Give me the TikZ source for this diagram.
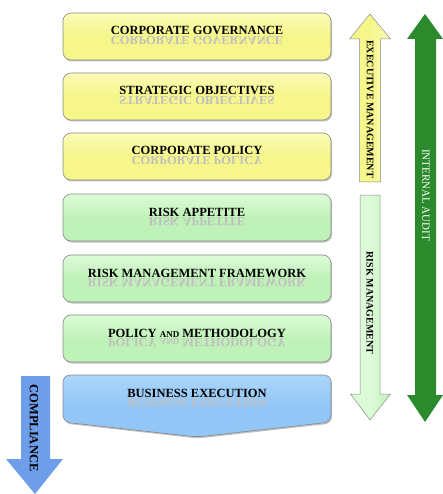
\documentclass[tikz,border=0pt]{standalone}
\usepackage{fontspec}
\setmainfont{Liberation Serif}
\usetikzlibrary{shadows}
\definecolor{yelA}{HTML}{F6F68A}
\definecolor{yelB}{HTML}{FBFBB8}
\definecolor{grnA}{HTML}{BFF2B8}
\definecolor{grnB}{HTML}{DDFAD8}
\definecolor{bluA}{HTML}{92C6F7}
\definecolor{bluB}{HTML}{ABD6FB}
\definecolor{dgreen}{HTML}{2B8A2B}
\definecolor{compl}{HTML}{6E9EEA}
\definecolor{edge}{HTML}{8A8A8A}
\tikzset{
  boxbase/.style={draw=edge, line width=0.6pt, rounded corners=8pt,
    drop shadow={shadow xshift=1pt, shadow yshift=-1.5pt, opacity=0.35, fill=black!70}},
  ybox/.style={boxbase, top color=yelB, bottom color=yelA, middle color=yelA},
  gbox/.style={boxbase, top color=grnB, bottom color=grnA, middle color=grnA},
  bbox/.style={boxbase, top color=bluB, bottom color=bluA, middle color=bluA},
  title/.style={anchor=base, font=\bfseries\fontsize{12.5}{13}\selectfont, text=black, inner sep=0pt},
  refl/.style={anchor=base, font=\bfseries\fontsize{12.5}{13}\selectfont, text=black!25, inner sep=0pt, yscale=-1},
  arrtxt/.style={rotate=-90, font=\bfseries\fontsize{10}{11}\selectfont, inner sep=0pt},
}
\newcommand\mybox[5]{% name, top, style, text
  \node[#3, minimum width=268pt, minimum height=47pt, inner sep=0pt] (#1) at (197,#2+23.5) {};
  \node[title] (#1t) at (197,#2+22) {#4};
  \begin{scope}
    \clip (70,#2+22.8) rectangle (325,#2+31);
    \node[refl] (#1r) at (197,#2+23.2) {#5};
  \end{scope}
}
\begin{document}
\begin{tikzpicture}[x=1pt,y=-1pt]
\useasboundingbox (0,0) rectangle (442,494);
% boxes
\mybox{b1}{13}{ybox}{CORPORATE GOVERNANCE}{CORPORATE GOVERNANCE}
\mybox{b2}{73}{ybox}{STRATEGIC OBJECTIVES}{STRATEGIC OBJECTIVES}
\mybox{b3}{133}{ybox}{CORPORATE POLICY}{CORPORATE POLICY}
\mybox{b4}{194}{gbox}{RISK APPETITE}{RISK APPETITE}
\mybox{b5}{255}{gbox}{RISK MANAGEMENT FRAMEWORK}{RISK MANAGEMENT FRAMEWORK}
\mybox{b6}{315}{gbox}{POLICY {\fontsize{9}{9}\selectfont AND} METHODOLOGY}{POLICY {\fontsize{9}{9}\selectfont AND} METHODOLOGY}
% business execution
\path[bbox, rounded corners=7pt] (63,422) -- (63,375) -- (331,375) -- (331,422) -- (197,437) -- cycle;
\node[title] (b7t) at (197,397) {BUSINESS EXECUTION};
\begin{scope}
  \clip (70,397.8) rectangle (325,406);
  \node[refl] (b7r) at (197,398.2) {BUSINESS EXECUTION};
\end{scope}
% executive management arrow (up)
\path[draw=edge, line width=0.5pt, left color=yelA, right color=yelB, middle color=yelA]
  (359.5,182) -- (359.5,39) -- (349.5,39) -- (370,14) -- (390.5,39) -- (380.5,39) -- (380.5,182) -- cycle;
\node[arrtxt] (em) at (370,109) {EXECUTIVE MANAGEMENT};
% risk management arrow (down)
\path[draw=edge, line width=0.5pt, left color=grnB, right color=grnA, middle color=grnB]
  (360,195) -- (380,195) -- (380,394) -- (390.5,394) -- (370,420) -- (350.5,394) -- (360,394) -- cycle;
\node[arrtxt] (rm) at (370,303) {RISK MANAGEMENT};
% internal audit double arrow
\path[fill=dgreen]
  (425,14) -- (443,39) -- (436,39) -- (436,395) -- (443,395) -- (425,422) -- (407,395) -- (415,395) -- (415,39) -- (407,39) -- cycle;
\node[arrtxt, text=white, font=\fontsize{11}{12}\selectfont] (ia) at (426,195) {INTERNAL AUDIT};
% compliance arrow
\path[fill=compl]
  (21,376) -- (50,376) -- (50,459) -- (63,459) -- (35,494) -- (6,459) -- (21,459) -- cycle;
\node[arrtxt, font=\bfseries\fontsize{12.5}{13}\selectfont] (co) at (34,428) {COMPLIANCE};
\end{tikzpicture}
\end{document}
